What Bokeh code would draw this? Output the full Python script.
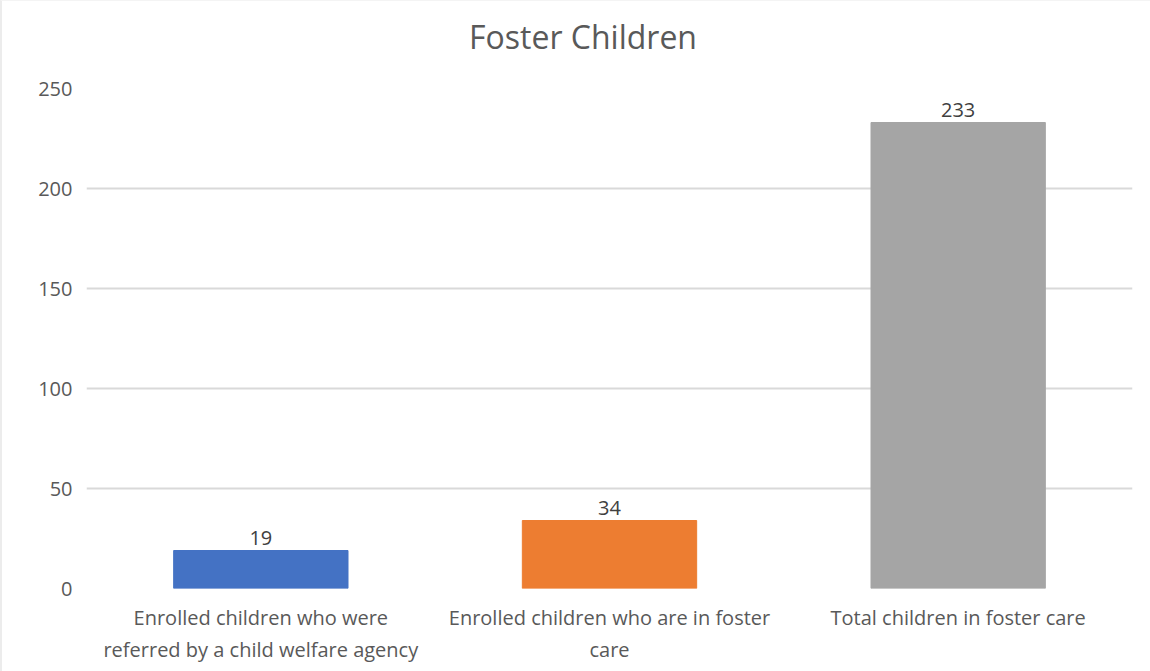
from bokeh.plotting import figure
from bokeh.models import ColumnDataSource, FactorRange, Range1d, LabelSet, FixedTicker, Div
from bokeh.layouts import column
from bokeh.core.properties import value
from bokeh.embed import file_html
from bokeh.resources import INLINE

title_text = "Foster Children"
categories = ["Enrolled children who were\nreferred by a child welfare agency",
              "Enrolled children who are in foster\ncare",
              "Total children in foster care"]
values = [19, 34, 233]
colors = ["#4472C4", "#ED7D31", "#A5A5A5"]
y_ticks = [0, 50, 100, 150, 200, 250]

FONT = "Open Sans"

src = ColumnDataSource(dict(cat=categories, val=values, color=colors,
                            lbl=[str(v) for v in values]))

W = 1140
TITLE_H = 54
title = Div(
    text=('<div style="width:%dpx;box-sizing:border-box;padding-left:12px;'
          'position:relative;top:4px;'
          'text-align:center;font-family:\'Open Sans\';font-size:32px;'
          'color:#595959;line-height:%dpx;">%s</div>') % (W, TITLE_H, title_text),
    width=W, height=TITLE_H)

p = figure(width=W, height=609, x_range=FactorRange(*categories),
           y_range=Range1d(0, 250), output_backend="svg", toolbar_location=None,
           min_border_left=84, min_border_right=10, min_border_top=23,
           min_border_bottom=86)

p.vbar(x="cat", top="val", width=0.5, color="color", source=src)

labels = LabelSet(x="cat", y="val", text="lbl", source=src, text_align="center",
                  text_baseline="bottom", y_offset=6, text_font_size="20px",
                  text_color="#404040", text_font=value(FONT))
p.add_layout(labels)

p.outline_line_color = None
p.xgrid.grid_line_color = None
p.ygrid.grid_line_color = "#d9d9d9"
p.ygrid.grid_line_width = 2
p.yaxis.ticker = FixedTicker(ticks=y_ticks)
p.yaxis.axis_line_color = None
p.yaxis.major_tick_line_color = None
p.yaxis.major_tick_out = 0
p.yaxis.minor_tick_line_color = None
p.yaxis.major_label_text_font = FONT
p.yaxis.major_label_text_font_size = "20px"
p.yaxis.major_label_text_color = "#595959"
p.yaxis.major_label_standoff = 14

p.xaxis.axis_line_color = None
p.xaxis.major_tick_line_color = None
p.xaxis.major_tick_out = 0
p.xaxis.major_label_text_font = FONT
p.xaxis.major_label_text_font_size = "20px"
p.xaxis.major_label_text_color = "#595959"
p.xaxis.major_label_standoff = 15

layout = column(title, p, spacing=0)
layout.styles = {"border-left": "2px solid #ececec", "border-top": "1px solid #f4f4f4"}

open("out.html", "w").write(file_html(layout, INLINE))
